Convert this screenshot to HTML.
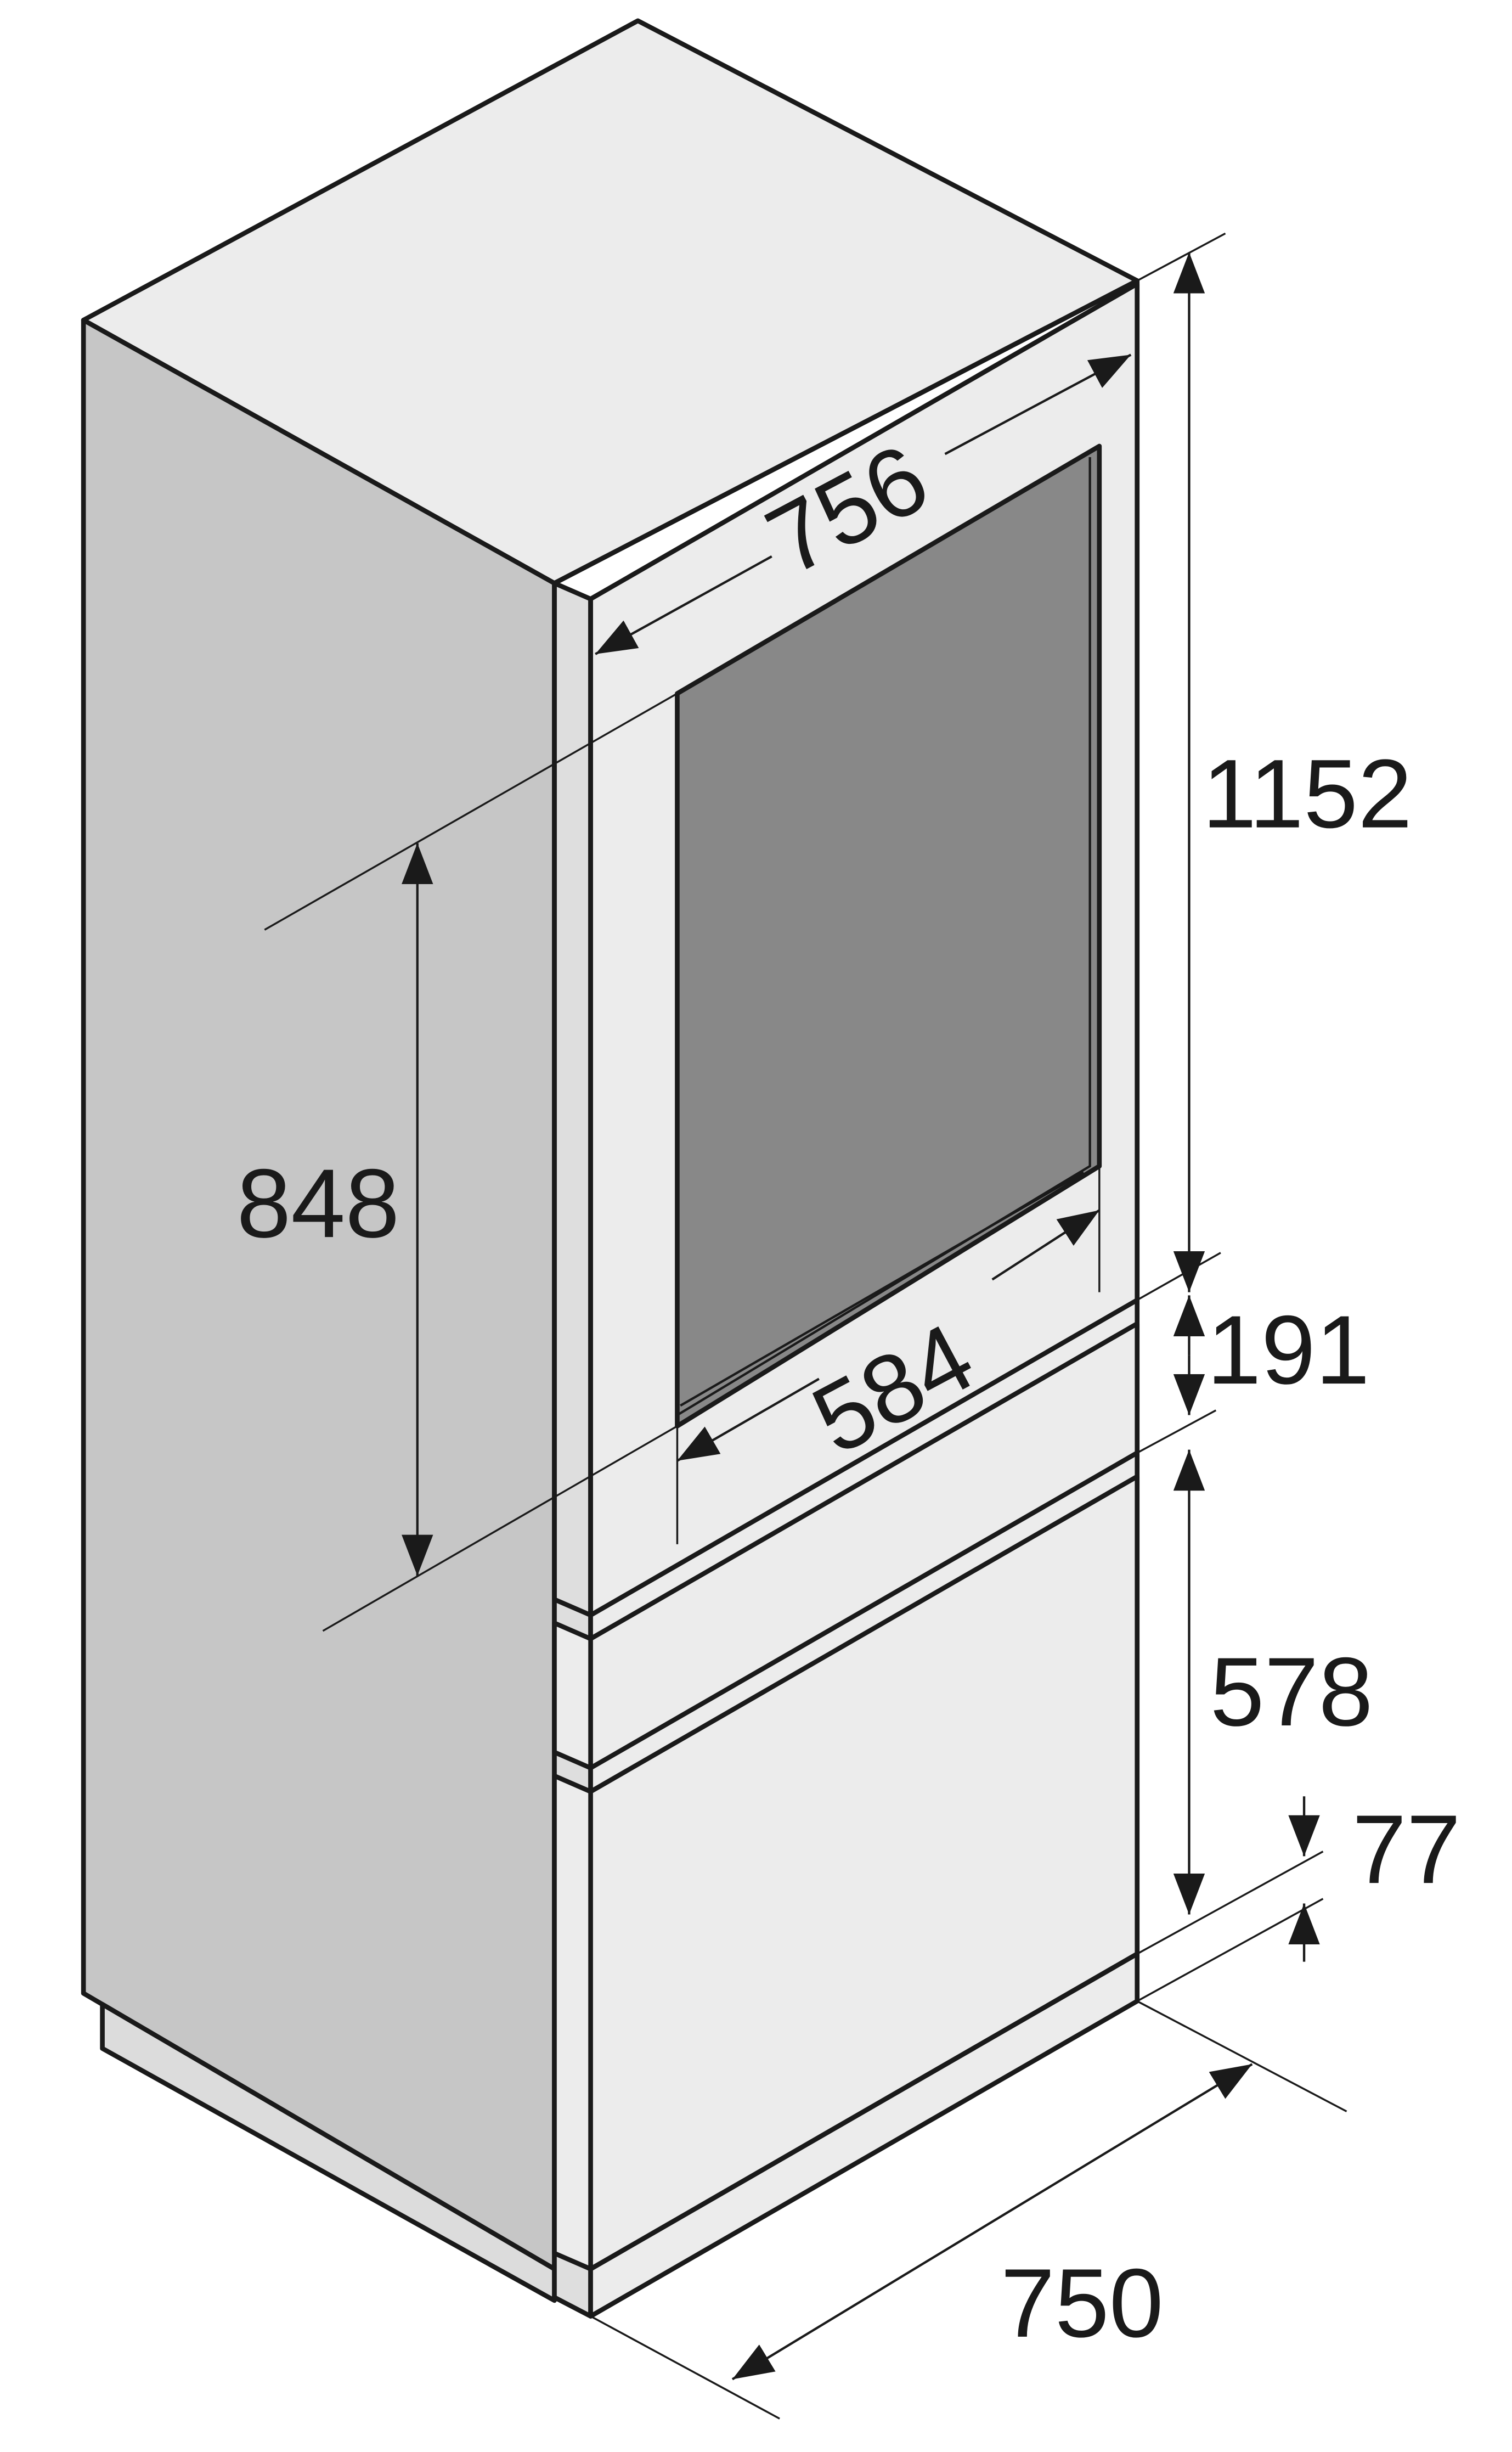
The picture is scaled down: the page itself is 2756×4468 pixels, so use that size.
<!DOCTYPE html>
<html><head><meta charset="utf-8"><style>
html,body{margin:0;padding:0;background:#fff}
svg{display:block}
text{font-family:"Liberation Sans","DejaVu Sans",sans-serif;fill:#1a1a1a}
</style></head><body>
<svg width="2756" height="4468" viewBox="0 0 960 1556" xmlns="http://www.w3.org/2000/svg">
<defs>
<marker id="b" viewBox="0 0 26 20" refX="26" refY="10" markerWidth="26" markerHeight="20" markerUnits="userSpaceOnUse" orient="auto-start-reverse"><path d="M0,0L26,10L0,20z" fill="#1a1a1a"/></marker>
</defs>
<g stroke="#1a1a1a" stroke-width="3" stroke-linejoin="round">
<polygon points="53,203 405,13 722,178 352,370" fill="#ececec"/>
<polygon points="53,203 352,370 352,1440 53,1265" fill="#c6c6c6"/>
<polygon points="65,1272 352,1440 352,1460 65,1300" fill="#dcdcdc"/>
<polygon points="352,370 375,380 375,1470 352,1458" fill="#dedede"/>
<polygon points="375,380 722,180 722,1270 375,1470" fill="#ececec"/>
<polygon points="352,370 722,178 722,825 375,1025 352,1015" fill="none"/>
<line x1="375" y1="380" x2="375" y2="1025"/>
<polygon points="352,1030 375,1040 722,840 722,922 375,1122 352,1112" fill="#ececec"/>
<line x1="375" y1="1040" x2="375" y2="1122"/>
<polygon points="352,1127 375,1137 722,937 722,1240 375,1440 352,1430" fill="#ececec"/>
<line x1="375" y1="1137" x2="375" y2="1440"/>
<line x1="375" y1="1440" x2="722" y2="1240"/>
<polygon points="430,440 698,283 698,740 430,905" fill="#888"/>
</g>
<g stroke="#1a1a1a" stroke-width="1.5" fill="none">
<polyline points="430,898 692,740 692,290"/>
<polyline points="432,892 688,744"/>
</g>
<g stroke="#1a1a1a" stroke-width="1.2">
<line x1="722" y1="178" x2="778" y2="148"/>
<line x1="722" y1="825" x2="775" y2="795"/>
<line x1="722" y1="922" x2="772" y2="895"/>
<line x1="722" y1="1240" x2="840" y2="1175"/>
<line x1="722" y1="1270" x2="840" y2="1205"/>
<line x1="722" y1="1270" x2="855" y2="1340"/>
<line x1="375" y1="1470" x2="495" y2="1535"/>
<line x1="168" y1="590" x2="430" y2="440"/>
<line x1="205" y1="1035" x2="430" y2="905"/>
<line x1="430" y1="905" x2="430" y2="980"/>
<line x1="698" y1="740" x2="698" y2="820"/>
</g>
<g stroke="#1a1a1a" stroke-width="1.5" fill="none">
<line x1="755" y1="160" x2="755" y2="820" marker-start="url(#b)" marker-end="url(#b)"/>
<line x1="755" y1="860" x2="755" y2="822" marker-end="url(#b)"/>
<line x1="755" y1="860" x2="755" y2="898" marker-end="url(#b)"/>
<line x1="755" y1="920" x2="755" y2="1215" marker-start="url(#b)" marker-end="url(#b)"/>
<line x1="828" y1="1140" x2="828" y2="1178" marker-end="url(#b)"/>
<line x1="828" y1="1245" x2="828" y2="1208" marker-end="url(#b)"/>
<line x1="265" y1="535" x2="265" y2="1000" marker-start="url(#b)" marker-end="url(#b)"/>
<line x1="465" y1="1510" x2="795" y2="1310" marker-start="url(#b)" marker-end="url(#b)"/>
<line x1="378" y1="415" x2="490" y2="353" marker-start="url(#b)"/>
<line x1="600" y1="288" x2="718" y2="225" marker-end="url(#b)"/>
<line x1="430" y1="927" x2="520" y2="875" marker-start="url(#b)"/>
<line x1="630" y1="812" x2="698" y2="768" marker-end="url(#b)"/>
</g>
<g font-size="62">
<text x="830" y="525" text-anchor="middle">1152</text>
<text x="818" y="878" text-anchor="middle">191</text>
<text x="820" y="1095" text-anchor="middle">578</text>
<text x="893" y="1195" text-anchor="middle">77</text>
<text x="687" y="1483" text-anchor="middle">750</text>
<text x="202" y="785" text-anchor="middle">848</text>
<text transform="translate(548,342) rotate(-28)" text-anchor="middle">756</text>
<text transform="translate(577,900) rotate(-28)" text-anchor="middle">584</text>
</g>
</svg>
</body></html>
